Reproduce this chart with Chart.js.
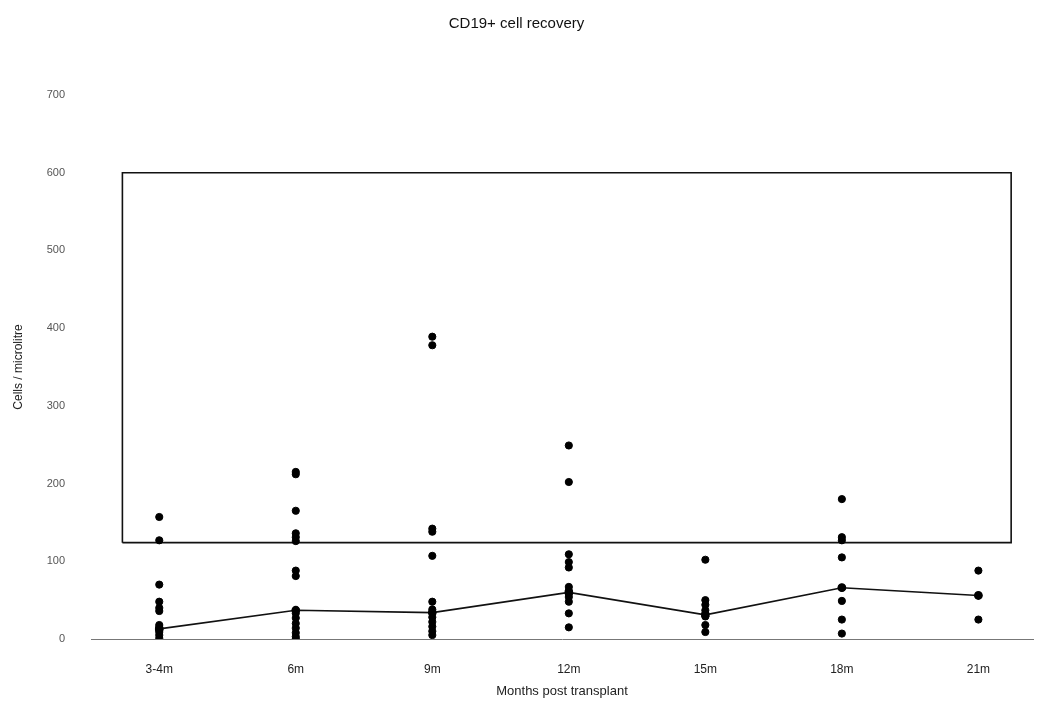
<!DOCTYPE html>
<html>
<head>
<meta charset="utf-8">
<script src="https://cdn.jsdelivr.net/npm/chart.js@4/dist/chart.umd.min.js"></script>
<style>
  html, body { margin: 0; padding: 0; background: #ffffff; }
  #wrap { width: 1038px; height: 708px; }
</style>
</head>
<body>
<div id="wrap"><canvas id="chart" width="1038" height="708"></canvas></div>
<script>
// Time points after transplant
const categories = ['3-4m', '6m', '9m', '12m', '15m', '18m', '21m'];

// CD19+ counts (cells / microlitre) for each patient at each time point
const m3to4 = [157, 127, 70, 48, 40, 36, 18, 15, 12, 9, 5, 1];
const m6    = [215, 212, 165, 136, 131, 126, 88, 81, 37, 33, 27, 20, 14, 8, 3, 0];
const m9    = [389, 378, 142, 138, 107, 48, 38, 34, 28, 22, 16, 10, 5];
const m12   = [249, 202, 109, 99, 92, 67, 62, 58, 54, 48, 33, 15];
const m15   = [102, 50, 44, 37, 33, 29, 18, 9];
const m18   = [180, 131, 127, 105, 66, 49, 25, 7];
const m21   = [88, 56, 25];

// Median count at each time point
const medians = [13, 37, 34, 60, 31, 66, 56];

// Normal range (cells / microlitre)
const normalLow = 124;
const normalHigh = 600;

// Y axis tick labels
const yTicks = [0, 100, 200, 300, 400, 500, 600, 700];

const groups = [m3to4, m6, m9, m12, m15, m18, m21];
const scatterPoints = [];
groups.forEach((vals, i) => vals.forEach(v => scatterPoints.push({ x: i, y: v })));

const medianPoints = medians.map((v, i) => ({ x: i, y: v }));

// Normal range drawn as an outlined rectangle across the time points
const boxLeft = -0.27, boxRight = 6.24;
const boxPoints = [
  { x: boxLeft, y: normalLow }, { x: boxRight, y: normalLow },
  { x: boxRight, y: normalHigh }, { x: boxLeft, y: normalHigh },
  { x: boxLeft, y: normalLow }
];

const FONT = "'Liberation Sans', Arial, sans-serif";

new Chart(document.getElementById('chart'), {
  type: 'scatter',
  data: {
    datasets: [
      {
        label: 'Normal range',
        data: boxPoints,
        showLine: true,
        borderColor: '#111',
        borderWidth: 1.6,
        pointRadius: 0,
        fill: false,
        order: 3
      },
      {
        label: 'Median',
        data: medianPoints,
        showLine: true,
        borderColor: '#111',
        backgroundColor: '#111',
        borderWidth: 1.6,
        pointRadius: 3.6,
        order: 2
      },
      {
        label: 'Patients',
        data: scatterPoints,
        backgroundColor: '#000',
        borderColor: '#000',
        pointRadius: 3.6,
        order: 1
      }
    ]
  },
  options: {
    responsive: false,
    animation: false,
    layout: { padding: { left: 0, right: 5, top: 0, bottom: 0 }, autoPadding: false },
    plugins: {
      legend: { display: false },
      tooltip: { enabled: false },
      title: {
        display: true,
        text: 'CD19+ cell recovery',
        color: '#111',
        font: { family: FONT, size: 15, weight: 'normal', lineHeight: 1.2 },
        padding: { top: 15, bottom: 62 }
      }
    },
    scales: {
      x: {
        type: 'linear',
        min: -0.5,
        max: 6.4,
        afterBuildTicks: s => { s.ticks = categories.map((c, i) => ({ value: i })); },
        afterFit: s => { s.height = 69; },
        grid: { display: false, drawTicks: false },
        border: { display: true, color: '#777', width: 1, dash: [7, 4] },
        ticks: {
          padding: 23,
          color: '#222',
          font: { family: FONT, size: 12 },
          callback: v => categories[v]
        },
        title: {
          display: true,
          text: 'Months post transplant',
          color: '#222',
          font: { family: FONT, size: 13 },
          padding: { top: 0, bottom: 9 }
        }
      },
      y: {
        min: 0,
        max: 700,
        afterBuildTicks: s => { s.ticks = yTicks.map(v => ({ value: v })); },
        afterFit: s => { s.width = 91; },
        grid: { display: false, drawTicks: false },
        border: { display: false },
        ticks: {
          padding: 26,
          color: '#555',
          font: { family: FONT, size: 11 }
        },
        title: {
          display: true,
          text: 'Cells / microlitre',
          color: '#222',
          font: { family: FONT, size: 12 },
          padding: { top: 11, bottom: 0 }
        }
      }
    }
  }
});
</script>
</body>
</html>
